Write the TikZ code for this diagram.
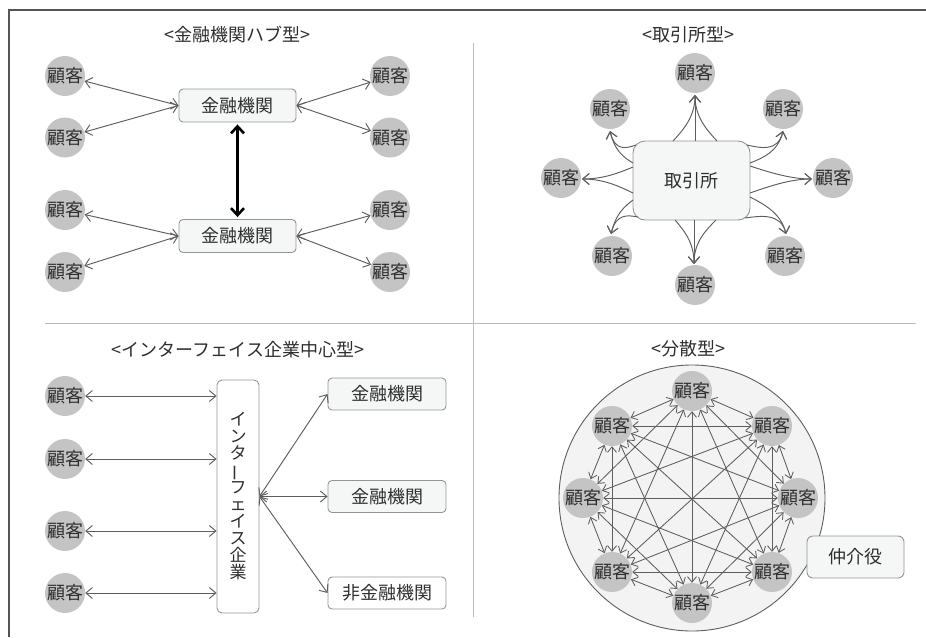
\documentclass[tikz,border=0pt]{standalone}
\usepackage{fontspec}
\setmainfont{Noto Sans CJK JP}
\usetikzlibrary{arrows.meta,calc}
\definecolor{ln}{HTML}{5E5E5E}
\definecolor{custc}{HTML}{C4C4C4}
\definecolor{txt}{HTML}{2E2E2E}
\definecolor{boxfill}{HTML}{F5F6F6}
\definecolor{boxline}{HTML}{959595}
\definecolor{bigfill}{HTML}{F3F3F3}
\definecolor{frame}{HTML}{555555}
\definecolor{divc}{HTML}{BBBBBB}
\newcommand{\flare}[3]{\draw[oneway] (#1) .. controls ($(#1)!0.45!(#2)$) and (#2) .. (#3);}
\newcommand{\vertfnt}{\fontsize{17}{17}\selectfont\lineskiplimit-100pt\relax}
\begin{document}
\begin{tikzpicture}[x=1pt,y=-1pt,
  every node/.style={text=txt, font=\fontsize{18}{20}\selectfont, inner sep=0pt},
  cust/.style={circle, fill=custc, minimum size=40pt},
  bank/.style={draw=boxline, fill=boxfill, rounded corners=4pt, minimum width=117pt, minimum height=33pt, line width=0.9pt},
  conn/.style={draw=ln, line width=0.95pt, {Straight Barb[length=6.5pt,width=11pt]}-{Straight Barb[length=6.5pt,width=11pt]}},
  connsm/.style={draw=ln, line width=0.85pt, {Straight Barb[length=5.5pt,width=9pt]}-{Straight Barb[length=5.5pt,width=9pt]}},
  oneway/.style={draw=ln, line width=0.95pt, -{Straight Barb[length=6.5pt,width=11pt]}},
  title/.style={text=txt, font=\fontsize{18}{20}\selectfont},
  divider/.style={draw=divc, line width=0.8pt}
]
\useasboundingbox (0,0) rectangle (926,637);
% frame and dividers
\draw[frame, line width=1.5pt] (9,637) -- (9,10) -- (926,10);
\draw[divider] (45,323) -- (916,323);
\draw[divider] (473,43) -- (473,617);

% ---------- top-left: hub ----------
\node[title] (t1) at (237,35) {<金融機関ハブ型>};
\node[bank] (b1) at (237.5,105.5) {金融機関};
\node[bank] (b2) at (237.5,236) {金融機関};
\node[cust] (l1) at (65,76) {顧客};
\node[cust] (l2) at (65,137.5) {顧客};
\node[cust] (l3) at (65,210) {顧客};
\node[cust] (l4) at (65,272) {顧客};
\node[cust] (r1) at (390,76) {顧客};
\node[cust] (r2) at (390,137.5) {顧客};
\node[cust] (r3) at (390,210) {顧客};
\node[cust] (r4) at (390,272) {顧客};
\draw[conn] (l1) -- (b1.west);
\draw[conn] (l2) -- (b1.west);
\draw[conn] (l3) -- (b2.west);
\draw[conn] (l4) -- (b2.west);
\draw[conn] (r1) -- (b1.east);
\draw[conn] (r2) -- (b1.east);
\draw[conn] (r3) -- (b2.east);
\draw[conn] (r4) -- (b2.east);
\draw[black, line width=2.6pt, {Straight Barb[length=7pt,width=13pt]}-{Straight Barb[length=7pt,width=13pt]}, shorten <=2pt, shorten >=2pt] (b1.south) -- (b2.north);

% ---------- top-right: exchange ----------
\node[title] (t2) at (688,35) {<取引所型>};
\node[draw=boxline, fill=boxfill, rounded corners=12pt, minimum width=117pt, minimum height=79pt, line width=0.9pt] (ex) at (691.5,180.5) {取引所};
\node[cust] (e1) at (695,73) {顧客};
\node[cust] (e2) at (783,109) {顧客};
\node[cust] (e3) at (833,178) {顧客};
\node[cust] (e4) at (785,256) {顧客};
\node[cust] (e5) at (695,285) {顧客};
\node[cust] (e6) at (612,256) {顧客};
\node[cust] (e7) at (561,178) {顧客};
\node[cust] (e8) at (610,109) {顧客};
% tips, control points, bases
\coordinate (T1) at (695,95);  \coordinate (K1) at (695,117);
\coordinate (T2) at (783,131); \coordinate (K2) at (778,152);
\coordinate (T3) at (812,179); \coordinate (K3) at (790,179);
\coordinate (T4) at (786,234); \coordinate (K4) at (781,213);
\coordinate (T5) at (694,264); \coordinate (K5) at (694,242);
\coordinate (T6) at (611,234); \coordinate (K6) at (616,213);
\coordinate (T7) at (582,179); \coordinate (K7) at (604,179);
\coordinate (T8) at (610,131); \coordinate (K8) at (615,152);
\coordinate (B1a) at (673,141); \coordinate (B1b) at (717,141);
\coordinate (B2a) at (747,145); \coordinate (B2b) at (750,163);
\coordinate (B3a) at (750,166); \coordinate (B3b) at (750,193);
\coordinate (B4a) at (750,197); \coordinate (B4b) at (745,218);
\coordinate (B5a) at (675,220); \coordinate (B5b) at (716,220);
\coordinate (B6a) at (633,200); \coordinate (B6b) at (638,217);
\coordinate (B7a) at (633,167); \coordinate (B7b) at (633,193);
\coordinate (B8a) at (636,145); \coordinate (B8b) at (633,163);
\foreach \k in {1,...,8}{\flare{B\k a}{K\k}{T\k}\flare{B\k b}{K\k}{T\k}}
\draw[oneway] (ex.north -| T1) -- (T1);
\draw[oneway] (ex.south -| T5) -- (T5);

% ---------- bottom-left: interface ----------
\node[title] (t3) at (238,350) {<インターフェイス企業中心型>};
\node[cust] (d1) at (65,396) {顧客};
\node[cust] (d2) at (65,459) {顧客};
\node[cust] (d3) at (65,531) {顧客};
\node[cust] (d4) at (65,593) {顧客};
\node[draw=boxline, fill=white, rounded corners=5pt, minimum width=42pt, minimum height=233pt, line width=0.9pt, align=center,
  font=\vertfnt] (ifc) at (238,496.5)
  {イ\\ン\\タ\\\smash{\rotatebox[origin=c]{90}{ー}}\\フ\\ェ\\イ\\ス\\企\\業};
\node[bank, minimum width=118pt, minimum height=32pt] (f1) at (387,394) {金融機関};
\node[bank, minimum width=118pt, minimum height=32pt] (f2) at (387,496.5) {金融機関};
\node[bank, fill=white, minimum width=118pt, minimum height=32pt] (f3) at (387,593) {非金融機関};
\foreach \d in {d1,d2,d3,d4}{\draw[conn] (\d) -- (\d -| ifc.west);}
\foreach \f in {f1,f2,f3}{\draw[conn] (ifc.east) -- (\f.west);}

% ---------- bottom-right: distributed ----------
\node[title] (t4) at (688,349) {<分散型>};
\node[circle, draw=ln, fill=bigfill, minimum size=266pt, line width=0.9pt] (big) at (692,498) {};
\node[cust] (g1) at (692,391) {顧客};
\node[cust] (g2) at (772,426) {顧客};
\node[cust] (g3) at (798,498) {顧客};
\node[cust] (g4) at (772,572) {顧客};
\node[cust] (g5) at (692,603) {顧客};
\node[cust] (g6) at (612,572) {顧客};
\node[cust] (g7) at (583,498) {顧客};
\node[cust] (g8) at (612,426) {顧客};
\foreach \i in {1,...,8}{\foreach \j in {1,...,8}{\ifnum\i<\j \draw[connsm] (g\i) -- (g\j);\fi}}
\node[draw=boxline, fill=boxfill, rounded corners=6pt, minimum width=97pt, minimum height=42pt, line width=0.9pt] (med) at (855.5,557) {仲介役};
\end{tikzpicture}
\end{document}
